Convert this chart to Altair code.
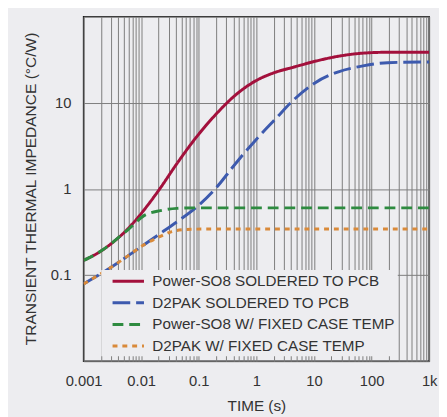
import altair as alt
import pandas as pd

# ---- data ----
series_names = [
    "Power-SO8 SOLDERED TO PCB",
    "D2PAK SOLDERED TO PCB",
    "Power-SO8 W/ FIXED CASE TEMP",
    "D2PAK W/ FIXED CASE TEMP",
]

red_t = [0.001, 0.002, 0.003, 0.0058, 0.0112, 0.0216, 0.0415, 0.091, 0.2, 0.44, 0.96, 2.1, 4.5, 10.2, 26.6, 71, 190, 1000]
red_z = [0.148, 0.19, 0.231, 0.342, 0.57, 1.03, 1.96, 4.0, 7.4, 12.4, 17.9, 22.5, 26.0, 30.2, 34.7, 37.7, 38.6, 38.7]

blue_t = [0.001, 0.003, 0.0058, 0.0112, 0.0216, 0.0415, 0.091, 0.2, 0.44, 0.96, 2.1, 4.5, 10.2, 26.6, 71, 190, 1000]
blue_z = [0.079, 0.123, 0.166, 0.225, 0.305, 0.414, 0.613, 1.03, 1.99, 3.66, 6.4, 10.9, 16.9, 22.9, 26.8, 29.2, 29.8]

green_t = [0.001, 0.002, 0.003, 0.0045, 0.0058, 0.0112, 0.0216, 0.0415, 0.08, 1000]
green_z = [0.148, 0.19, 0.231, 0.29, 0.333, 0.49, 0.56, 0.595, 0.603, 0.603]

orange_t = [0.001, 0.003, 0.0058, 0.0112, 0.0189, 0.034, 0.06, 0.12, 1000]
orange_z = [0.079, 0.123, 0.166, 0.225, 0.27, 0.32, 0.338, 0.342, 0.342]

x_tick_values = [m * 10.0 ** k for k in range(-3, 3) for m in range(1, 10)] + [1000]
y_tick_values = [0.01, 0.1, 1, 10, 100]

colors = ["#A3103C", "#3D5AAE", "#2E8B40", "#D98A3A"]
dashes = [[1, 0], [18, 6], [11, 6], [5, 5]]

rows = []
for name, ts, zs in zip(series_names, [red_t, blue_t, green_t, orange_t], [red_z, blue_z, green_z, orange_z]):
    for t, z in zip(ts, zs):
        rows.append({"series": name, "time": t, "z": z})
df = pd.DataFrame(rows)

FONT = "Liberation Sans, Arial, sans-serif"
BG = "#EDEDF0"
TXT = "#333333"
GRID = "#7c7c7c"

x_enc = alt.X(
    "time:Q",
    scale=alt.Scale(type="log", domain=[0.001, 1000], nice=False),
    axis=alt.Axis(
        values=x_tick_values,
        labelExpr="datum.value > 999 ? '1k' : (abs(log(datum.value)/LN10 - round(log(datum.value)/LN10)) < 0.001 ? format(datum.value, '~g') : '')",
        grid=True, gridColor=GRID, gridWidth=1, ticks=False, domain=False,
        labelFont=FONT, labelFontSize=15, labelColor=TXT, labelPadding=13,
        labelOverlap=False, labelFlush=False, labelBound=False,
        title="TIME (s)", titleFont=FONT, titleFontSize=15.6, titleFontWeight="normal",
        titleColor=TXT, titleBaseline="alphabetic", titleY=50,
    ),
)
y_enc = alt.Y(
    "z:Q",
    scale=alt.Scale(type="log", domain=[0.01, 100], nice=False),
    axis=alt.Axis(
        values=y_tick_values,
        labelExpr="datum.value > 0.05 && datum.value < 50 ? format(datum.value, '~g') : ''",
        grid=True, gridColor=GRID, gridWidth=1, ticks=False, domain=False,
        labelFont=FONT, labelFontSize=15, labelColor=TXT, labelPadding=13,
        labelOverlap=False,
        title="TRANSIENT THERMAL IMPEDANCE (°C/W)", titleFont=FONT, titleFontSize=15.8,
        titleFontWeight="normal", titleColor=TXT,
        titleX=-54, titleY=175, titleBaseline="middle",
    ),
)

legend_kw = dict(
    orient="none", legendX=18, legendY=258, title=None,
    fillColor=BG, padding=2, symbolType="M0,0H4", symbolSize=256,
    symbolStrokeWidth=3, labelFont=FONT, labelFontSize=15.5, labelColor=TXT,
    labelOffset=31, rowPadding=4, labelLimit=400,
)
color_enc = alt.Color(
    "series:N",
    scale=alt.Scale(domain=series_names, range=colors),
    legend=alt.Legend(**legend_kw),
)
dash_enc = alt.StrokeDash(
    "series:N",
    scale=alt.Scale(domain=series_names, range=dashes),
    legend=alt.Legend(**legend_kw),
)

layers = []
for name in series_names:
    layers.append(
        alt.Chart(df)
        .transform_filter(alt.datum.series == name)
        .mark_line(strokeWidth=3, interpolate="monotone", clip=True)
        .encode(x=x_enc, y=y_enc, color=color_enc, strokeDash=dash_enc)
    )

chart = (
    alt.layer(*layers)
    .properties(
        width=352, height=351,
        padding={"left": 77, "top": 5, "right": 10, "bottom": 53},
        autosize=alt.AutoSizeParams(type="none"),
        background=BG,
    )
    .configure_view(fill=BG, stroke="#1a1a1a", strokeWidth=1.5)
)

chart.save("out.html", embed_options={"renderer": "svg", "actions": False})
